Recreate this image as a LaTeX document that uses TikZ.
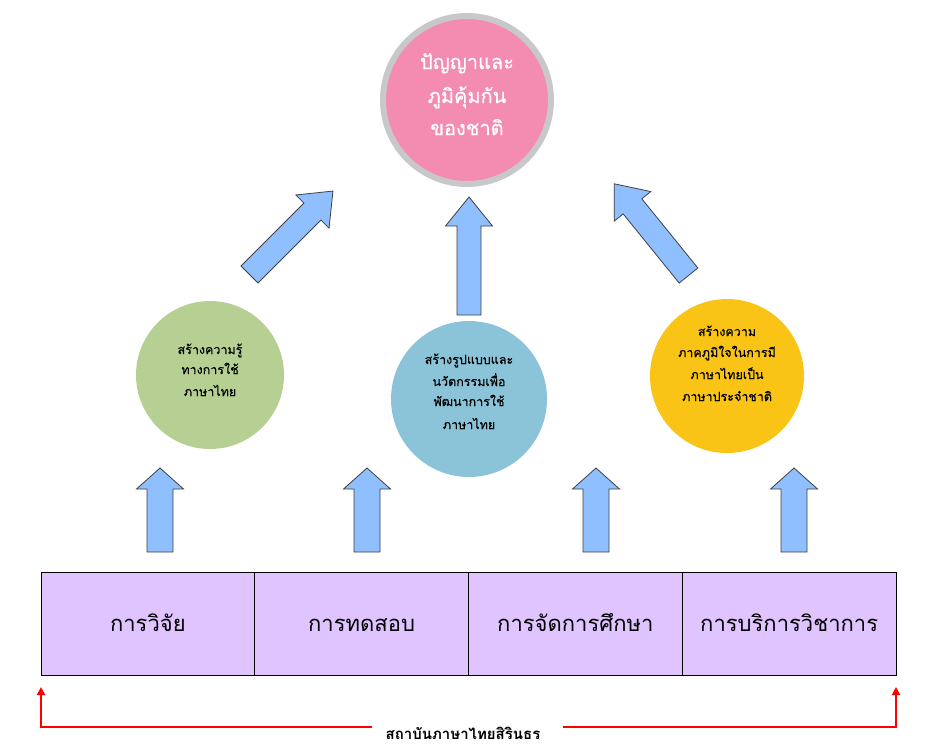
\documentclass[tikz,border=0pt]{standalone}
\usepackage{fontspec}
\setmainfont{Loma}[Script=Thai]
\newfontfamily\thaiheavy{Loma}[Script=Thai,FakeBold=0.4]
\usetikzlibrary{arrows.meta}
\definecolor{pinkfill}{RGB}{244,139,176}
\definecolor{ringgray}{RGB}{200,200,202}
\definecolor{greenfill}{RGB}{181,208,146}
\definecolor{bluefill}{RGB}{139,196,216}
\definecolor{yellowfill}{RGB}{249,196,22}
\definecolor{arrowfill}{RGB}{143,191,255}
\definecolor{boxfill}{RGB}{223,196,255}
\tikzset{
  blockarrow/.style={fill=arrowfill, draw=black!75, line width=0.8pt, line join=miter},
  pics/barrowsmall/.style={code={\draw[blockarrow] (-13,0) -- (-13,-63) -- (-23.5,-63) -- (0,-84) -- (23.5,-63) -- (13,-63) -- (13,0) -- cycle;}},
  pics/barrowlarge/.style={code={\draw[blockarrow] (-12,0) -- (-12,-89) -- (-23.5,-89) -- (0,-118) -- (23.5,-89) -- (12,-89) -- (12,0) -- cycle;}},
  bigcirc/.style={circle, fill=pinkfill, draw=ringgray, line width=6pt, minimum size=168pt, inner sep=0pt},
  smallcirc/.style={circle, draw=none, inner sep=0pt},
  bigtext/.style={anchor=base, inner sep=0pt, text=white, font=\thaiheavy\fontsize{20}{24}\selectfont},
  smalltext/.style={anchor=base, inner sep=0pt, text=black, font=\thaiheavy\fontsize{12.5}{15}\selectfont},
  taskbox/.style={rectangle, fill=boxfill, draw=black, line width=1pt, minimum width=213.75pt, minimum height=103pt, inner sep=0pt, text height=15pt, text depth=0pt, font=\fontsize{22}{26}\selectfont},
  redarrow/.style={draw=red, line width=2.6pt, -{Triangle[length=8pt,width=8pt]}},
}
\begin{document}
\begin{tikzpicture}[x=1pt,y=-1pt]
\useasboundingbox (0,0) rectangle (941,753);

% top circle
\node[bigcirc] (top) at (467,100) {};
\node[bigtext] (top1) at (467,69) {ปัญญาและ};
\node[bigtext] (top2) at (467,103) {ภูมิคุ้มกัน};
\node[bigtext] (top3) at (467,135) {ของชาติ};

% middle circles
\node[smallcirc, fill=greenfill, minimum size=148pt] (green) at (210,375) {};
\node[smalltext] (g1) at (210,354) {สร้างความรู้};
\node[smalltext] (g2) at (210,374) {ทางการใช้};
\node[smalltext] (g3) at (210,396) {ภาษาไทย};

\node[smallcirc, fill=bluefill, minimum size=156pt] (blue) at (469,399) {};
\node[smalltext] (bl1) at (469,364) {สร้างรูปแบบและ};
\node[smalltext] (bl2) at (469,386) {นวัตกรรมเพื่อ};
\node[smalltext] (bl3) at (469,406) {พัฒนาการใช้};
\node[smalltext] (bl4) at (469,429) {ภาษาไทย};

\node[smallcirc, fill=yellowfill, minimum size=154pt] (yellow) at (727,376) {};
\node[smalltext] (y1) at (727,336) {สร้างความ};
\node[smalltext] (y2) at (727,357) {ภาคภูมิใจในการมี};
\node[smalltext] (y3) at (727,379) {ภาษาไทยเป็น};
\node[smalltext] (y4) at (727,401) {ภาษาประจำชาติ};

% upper block arrows
\pic[rotate=-45] at (249.5,274.5) {barrowlarge};
\pic at (469,315) {barrowlarge};
\pic[rotate=39] at (688.5,275.5) {barrowlarge};

% lower block arrows
\pic at (160,552) {barrowsmall};
\pic at (367,552) {barrowsmall};
\pic at (596,552) {barrowsmall};
\pic at (794,552) {barrowsmall};

% bottom boxes
\node[taskbox] (b1) at (147.875,623.5) {การวิจัย};
\node[taskbox] (b2) at (361.625,623.5) {การทดสอบ};
\node[taskbox] (b3) at (575.375,623.5) {การจัดการศึกษา};
\node[taskbox] (b4) at (789.125,623.5) {การบริการวิชาการ};

% institute bracket
\node[font=\bfseries\fontsize{15}{15}\selectfont, inner sep=0pt] (inst) at (463,733) {สถาบันภาษาไทยสิรินธร};
\coordinate (lA) at (372,727);
\coordinate (lB) at (41,727);
\coordinate (lC) at (41,687);
\coordinate (rA) at (563,727);
\coordinate (rB) at (896,727);
\coordinate (rC) at (896,687);
\draw[redarrow] (lA) -- (lB) -- (lC);
\draw[redarrow] (rA) -- (rB) -- (rC);
\end{tikzpicture}
\end{document}
